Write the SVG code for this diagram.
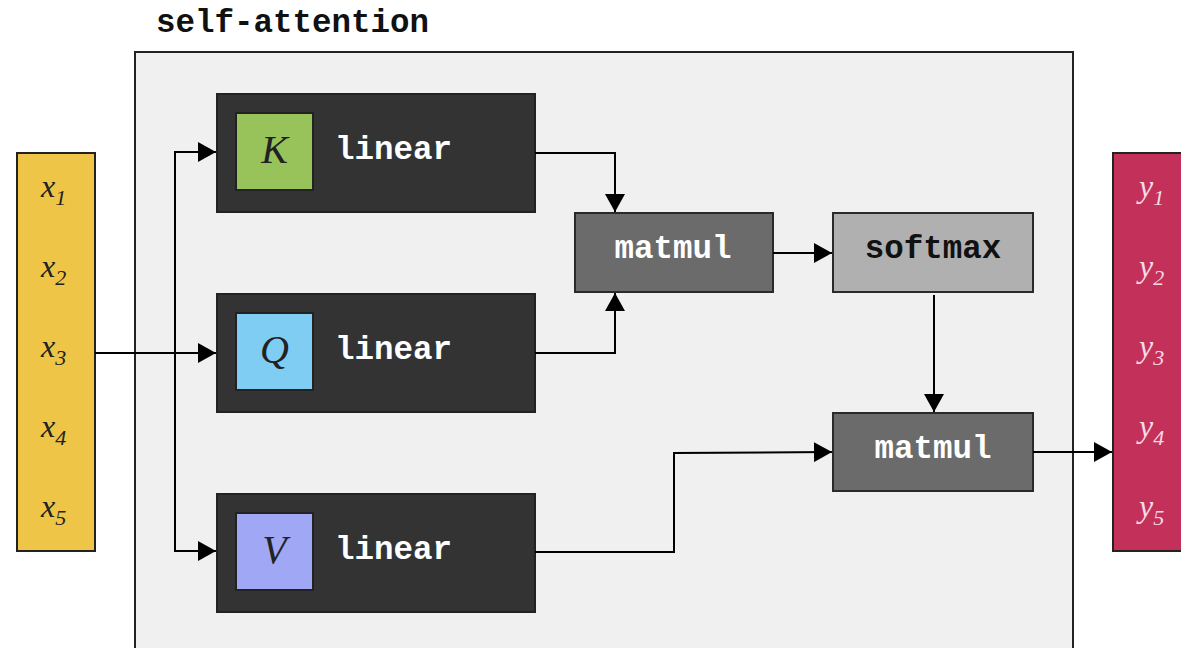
<svg xmlns="http://www.w3.org/2000/svg" width="1181" height="648" viewBox="0 0 1181 648">
  <defs>
    <marker id="arrow" viewBox="0 0 18 20" refX="18" refY="10" markerWidth="18" markerHeight="20" markerUnits="userSpaceOnUse" orient="auto">
      <path d="M0,0 L18,10 L0,20 Z" fill="#000"/>
    </marker>
    <style>
      .mono { font-family: "Liberation Mono", "Courier New", monospace; font-weight: bold; font-size: 32.5px; }
      .math { font-family: "Liberation Serif", "Times New Roman", serif; font-style: italic; font-size: 32px; }
      .big { font-size: 40px; }
      .sub { font-size: 22px; }
      .frame { stroke: #222; stroke-width: 2; }
      .dark { fill: #333333; stroke: #222; stroke-width: 2; }
      .op { stroke: #2a2a2a; stroke-width: 2; }
      .wire { fill: none; stroke: #000; stroke-width: 2; }
    </style>
  </defs>

  <rect width="1181" height="648" fill="#ffffff"/>

  <!-- container -->
  <g id="self-attention">
    <text class="mono" x="156" y="32" fill="#111" font-size="33">self-attention</text>
    <rect class="frame" x="135" y="52" width="938" height="610" fill="#f0f0f0"/>
  </g>

  <!-- inputs -->
  <g id="inputs">
    <rect class="frame" x="17" y="153" width="78" height="398" fill="#eec546"/>
    <text class="math" x="41" y="197" fill="#222">x<tspan class="sub" dy="8">1</tspan></text>
    <text class="math" x="41" y="277" fill="#222">x<tspan class="sub" dy="8">2</tspan></text>
    <text class="math" x="41" y="357" fill="#222">x<tspan class="sub" dy="8">3</tspan></text>
    <text class="math" x="41" y="437" fill="#222">x<tspan class="sub" dy="8">4</tspan></text>
    <text class="math" x="41" y="517" fill="#222">x<tspan class="sub" dy="8">5</tspan></text>
  </g>

  <!-- outputs -->
  <g id="outputs">
    <rect class="frame" x="1113" y="153" width="80" height="398" fill="#c3305a"/>
    <text class="math" x="1139" y="197" fill="#f3dbe3">y<tspan class="sub" dy="8">1</tspan></text>
    <text class="math" x="1139" y="277" fill="#f3dbe3">y<tspan class="sub" dy="8">2</tspan></text>
    <text class="math" x="1139" y="357" fill="#f3dbe3">y<tspan class="sub" dy="8">3</tspan></text>
    <text class="math" x="1139" y="437" fill="#f3dbe3">y<tspan class="sub" dy="8">4</tspan></text>
    <text class="math" x="1139" y="517" fill="#f3dbe3">y<tspan class="sub" dy="8">5</tspan></text>
  </g>

  <!-- projections -->
  <g id="linear-k">
    <rect class="dark" x="217" y="94" width="318" height="118"/>
    <rect x="236" y="113" width="77" height="77" fill="#98c35a" stroke="#222" stroke-width="2"/>
    <text class="math big" x="274.5" y="163" text-anchor="middle" fill="#222">K</text>
    <text class="mono" x="335" y="159" fill="#ffffff">linear</text>
  </g>
  <g id="linear-q">
    <rect class="dark" x="217" y="294" width="318" height="118"/>
    <rect x="236" y="313" width="77" height="77" fill="#7fcdf2" stroke="#222" stroke-width="2"/>
    <text class="math big" x="274.5" y="363" text-anchor="middle" fill="#222">Q</text>
    <text class="mono" x="335" y="359" fill="#ffffff">linear</text>
  </g>
  <g id="linear-v">
    <rect class="dark" x="217" y="494" width="318" height="118"/>
    <rect x="236" y="513" width="77" height="77" fill="#a0a8f5" stroke="#222" stroke-width="2"/>
    <text class="math big" x="274.5" y="563" text-anchor="middle" fill="#222">V</text>
    <text class="mono" x="335" y="559" fill="#ffffff">linear</text>
  </g>

  <!-- operations -->
  <g id="matmul-scores">
    <rect class="op" x="575" y="213" width="198" height="79" fill="#6b6b6b"/>
    <text class="mono" x="673" y="258" text-anchor="middle" fill="#ffffff">matmul</text>
  </g>
  <g id="softmax">
    <rect class="op" x="833" y="213" width="200" height="79" fill="#b0b0b0"/>
    <text class="mono" x="933" y="258" text-anchor="middle" fill="#111">softmax</text>
  </g>
  <g id="matmul-values">
    <rect class="op" x="833" y="413" width="200" height="78" fill="#6b6b6b"/>
    <text class="mono" x="933" y="458" text-anchor="middle" fill="#ffffff">matmul</text>
  </g>

  <!-- connectors -->
  <g id="connectors">
    <path class="wire" d="M95,353 L216,353" marker-end="url(#arrow)"/>
    <path class="wire" d="M175,353 L175,152 L216,152" marker-end="url(#arrow)"/>
    <path class="wire" d="M175,353 L175,551 L216,551" marker-end="url(#arrow)"/>
    <path class="wire" d="M535,153 L615,153 L615,212" marker-end="url(#arrow)"/>
    <path class="wire" d="M535,353 L615,353 L615,293" marker-end="url(#arrow)"/>
    <path class="wire" d="M773,253 L832,253" marker-end="url(#arrow)"/>
    <path class="wire" d="M934,295 L934,412" marker-end="url(#arrow)"/>
    <path class="wire" d="M535,552 L674,552 L674,453 L832,452" marker-end="url(#arrow)"/>
    <path class="wire" d="M1033,452 L1112,452" marker-end="url(#arrow)"/>
  </g>
</svg>
